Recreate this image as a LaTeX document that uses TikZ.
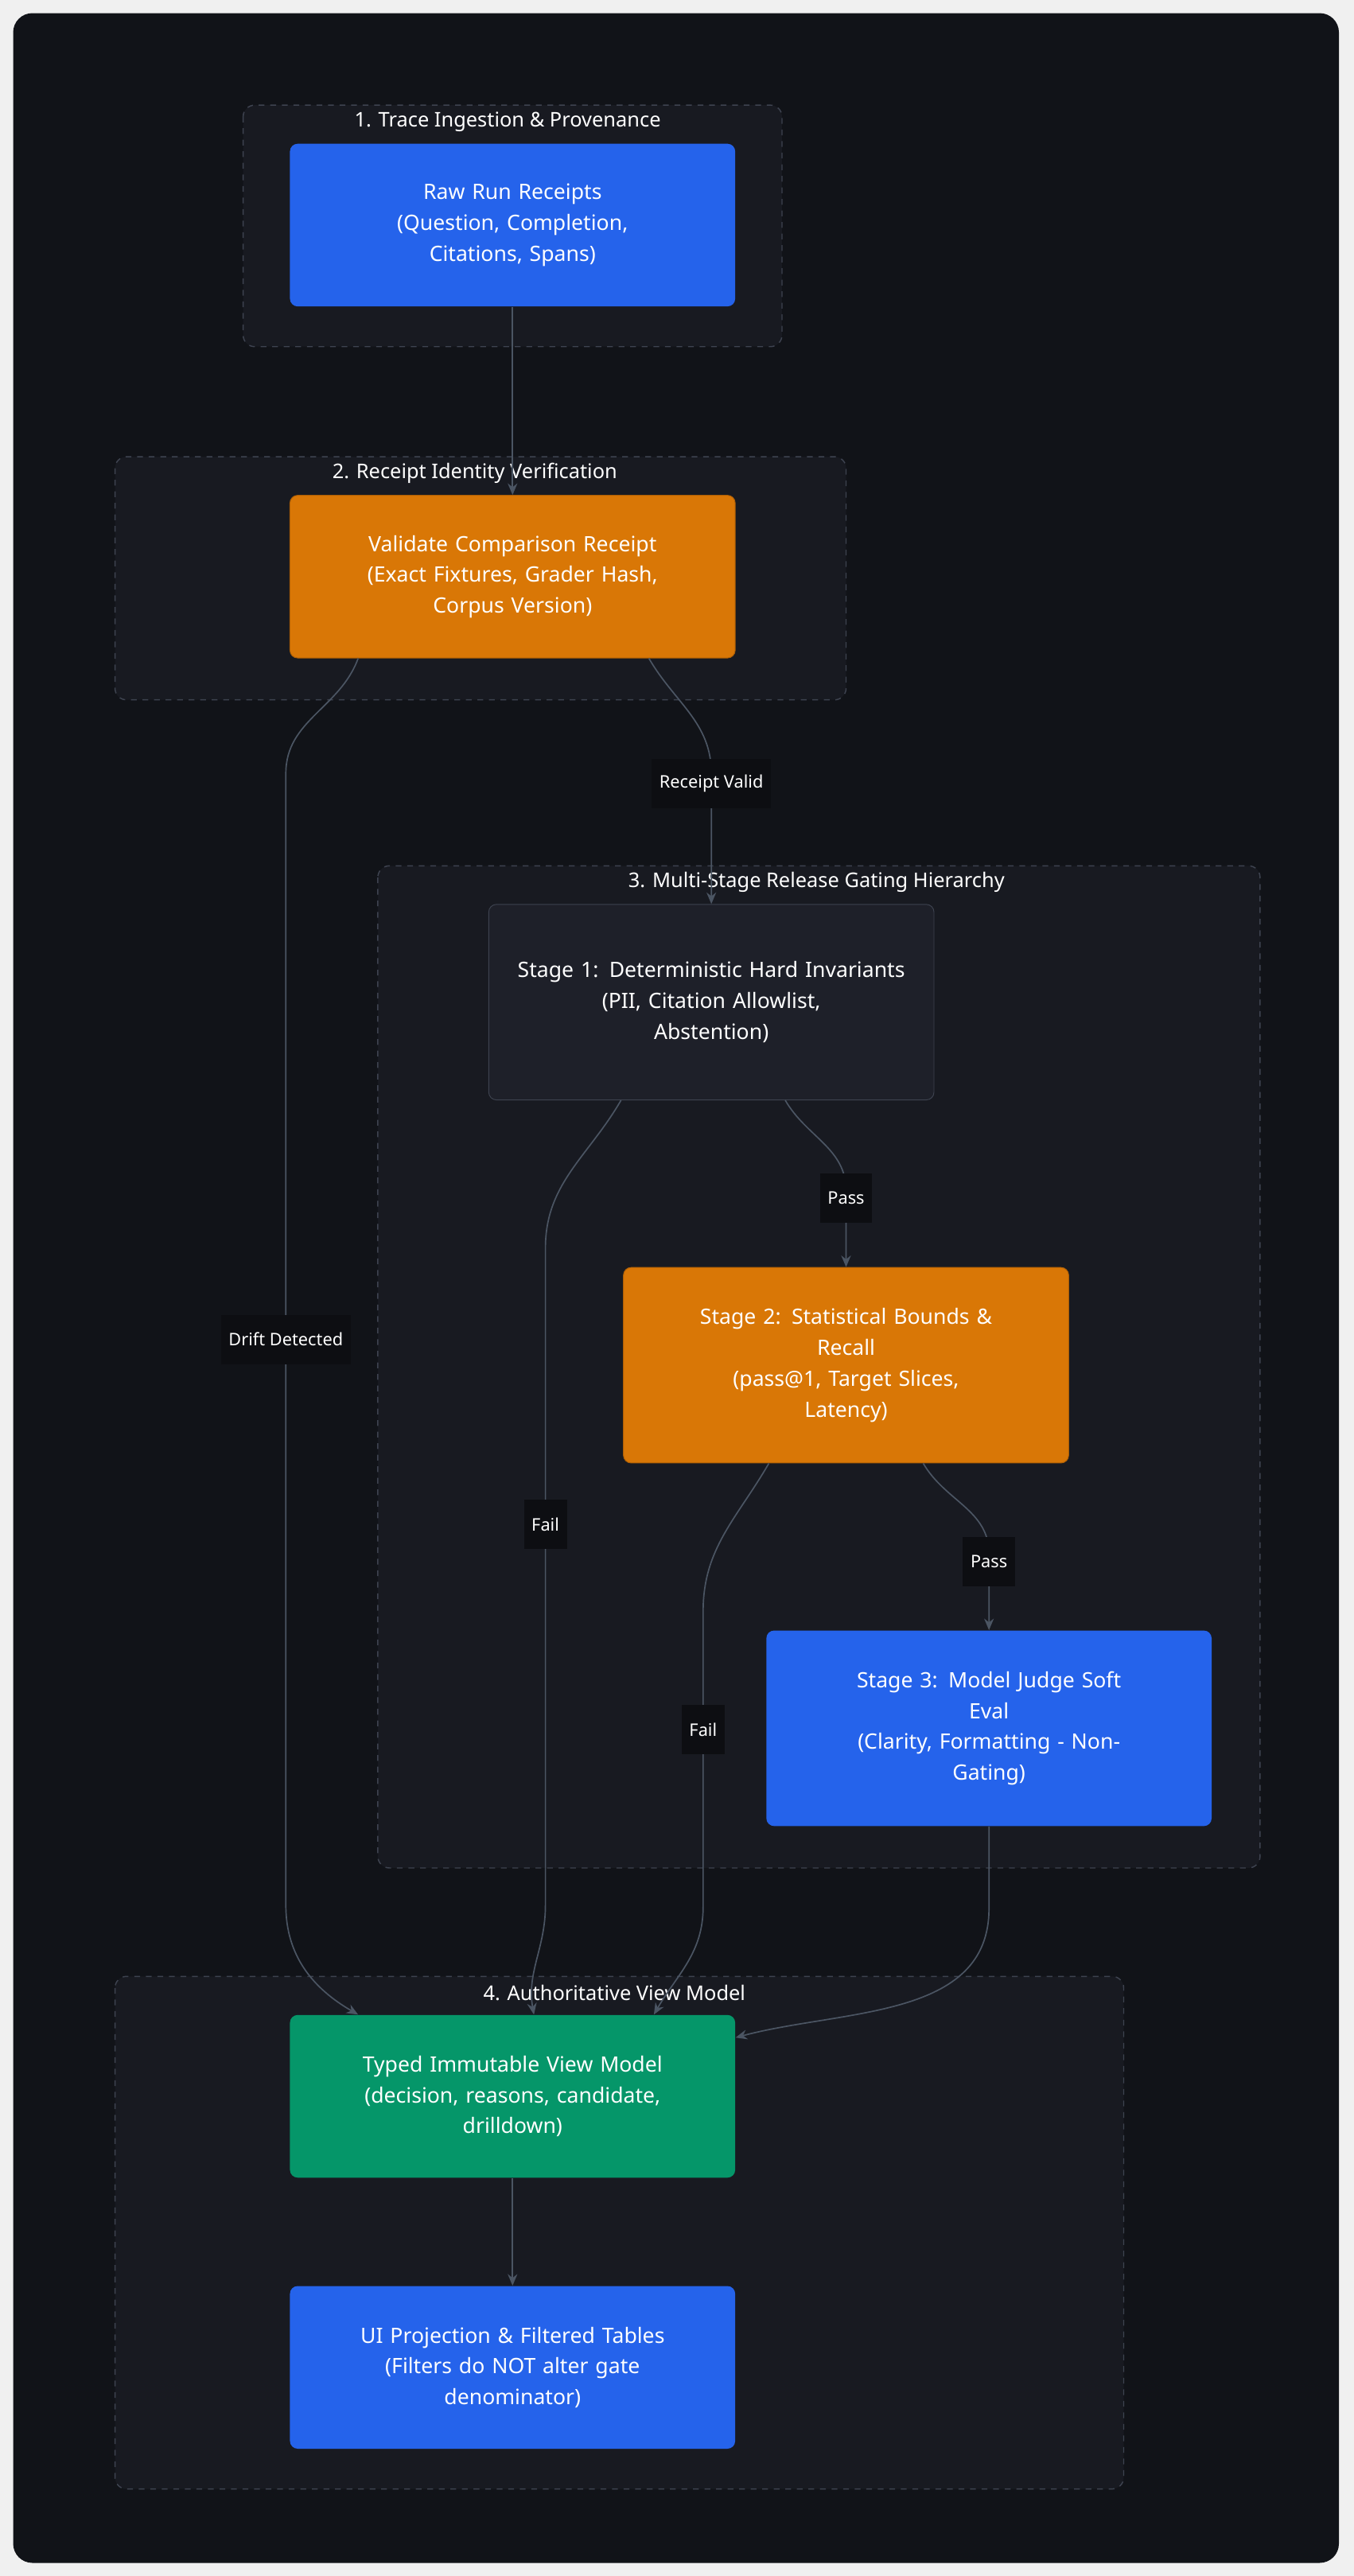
\documentclass[tikz,border=0pt]{standalone}
\usepackage{fontspec}
\setmainfont{Noto Sans}
\usetikzlibrary{arrows.meta}
\definecolor{pagebg}{HTML}{111318}
\definecolor{groupbg}{HTML}{181A21}
\definecolor{groupline}{HTML}{3E4350}
\definecolor{flowline}{HTML}{4B5563}
\definecolor{blueN}{HTML}{2563EB}
\definecolor{orangeN}{HTML}{D97706}
\definecolor{greenN}{HTML}{059669}
\definecolor{darkN}{HTML}{1E2029}
\definecolor{lblbg}{HTML}{0D0E12}
\tikzset{
  group/.style={draw=groupline,dashed,fill=groupbg,rounded corners=6pt,line width=0.6pt},
  grouptitle/.style={text=white,font=\fontsize{10.5}{12}\selectfont\bfseries},
  box/.style={rounded corners=4pt,text=white,align=center,minimum width=8.13cm,
    minimum height=2.97cm,text width=7.4cm,font=\fontsize{11}{16}\selectfont},
  flow/.style={draw=flowline,line width=0.7pt,-{Stealth[length=6pt,width=5pt]}},
  lbl/.style={fill=lblbg,text=white,font=\fontsize{9}{11}\selectfont,inner sep=4pt,minimum height=0.9cm}
}
\begin{document}
\begin{tikzpicture}[x=0.03cm,y=-0.03cm]
  \useasboundingbox (0,0) rectangle (824,1568);
  \fill[white!94!black] (0,0) rectangle (824,1568);
  \fill[pagebg,rounded corners=10pt] (8,8) rectangle (815,1560);
  % groups
  \draw[group] (148,64) rectangle (476,211);
  \node[grouptitle] (g1) at (309,74) {1. Trace Ingestion \& Provenance};
  \draw[group] (70,278) rectangle (515,426);
  \node[grouptitle] (g2) at (289,288) {2. Receipt Identity Verification};
  \draw[group] (230,527) rectangle (767,1137);
  \node[grouptitle] (g3) at (497,537) {3. Multi-Stage Release Gating Hierarchy};
  \draw[group] (70,1203) rectangle (684,1515);
  \node[grouptitle] (g4) at (374,1213) {4. Authoritative View Model};
  % nodes
  \node[box,fill=blueN] (raw) at (312,137) {Raw Run Receipts\\(Question, Completion,\\Citations, Spans)};
  \node[box,fill=orangeN,draw=orangeN!80!black] (validate) at (312,351) {Validate Comparison Receipt\\(Exact Fixtures, Grader Hash,\\Corpus Version)};
  \node[box,fill=darkN,draw=groupline,minimum height=3.57cm] (stage1) at (433,610) {Stage 1: Deterministic Hard Invariants\\(PII, Citation Allowlist,\\Abstention)};
  \node[box,fill=orangeN,draw=orangeN!80!black,minimum height=3.57cm] (stage2) at (515,831) {Stage 2: Statistical Bounds \&\\Recall\\(pass@1, Target Slices,\\Latency)};
  \node[box,fill=blueN,minimum height=3.57cm] (stage3) at (602,1052) {Stage 3: Model Judge Soft\\Eval\\(Clarity, Formatting - Non-\\Gating)};
  \node[box,fill=greenN] (view) at (312,1276) {Typed Immutable View Model\\(decision, reasons, candidate,\\drilldown)};
  \node[box,fill=blueN] (ui) at (312,1441) {UI Projection \& Filtered Tables\\(Filters do NOT alter gate\\denominator)};
  % connectors
  \path[flow] (raw) -- (validate);
  \path[flow] ([xshift=2.49cm]validate.south) to[out=-60,in=90] ++(38,70)
    -- node[lbl,pos=0.08] {Receipt Valid} (stage1.north);
  \path[flow] ([xshift=-2.82cm]validate.south) to[out=-110,in=90] ++(-44,70)
    -- node[lbl] {Drift Detected} ++(0,689) to[out=-90,in=150] ([xshift=-2.82cm]view.north);
  \path[flow] ([xshift=1.35cm]stage1.south) to[out=-60,in=90] ++(37,55)
    -- node[lbl,pos=0.1] {Pass} (stage2.north);
  \path[flow] ([xshift=-1.65cm]stage1.south) to[out=-120,in=90] ++(-46,90)
    -- node[lbl,pos=0.42] {Fail} ++(0,400) to[out=-90,in=100] ([xshift=0.39cm]view.north);
  \path[flow] ([xshift=1.41cm]stage2.south) to[out=-60,in=90] ++(40,55)
    -- node[lbl,pos=0.1] {Pass} (stage3.north);
  \path[flow] ([xshift=-1.41cm]stage2.south) to[out=-120,in=90] ++(-40,90)
    -- node[lbl,pos=0.4] {Fail} ++(0,180) to[out=-90,in=60] ([xshift=2.58cm]view.north);
  \path[flow] (stage3.south) -- ++(0,50) to[out=-90,in=15] ([yshift=-0.42cm]view.north east);
  \path[flow] (view) -- (ui);
\end{tikzpicture}
\end{document}
